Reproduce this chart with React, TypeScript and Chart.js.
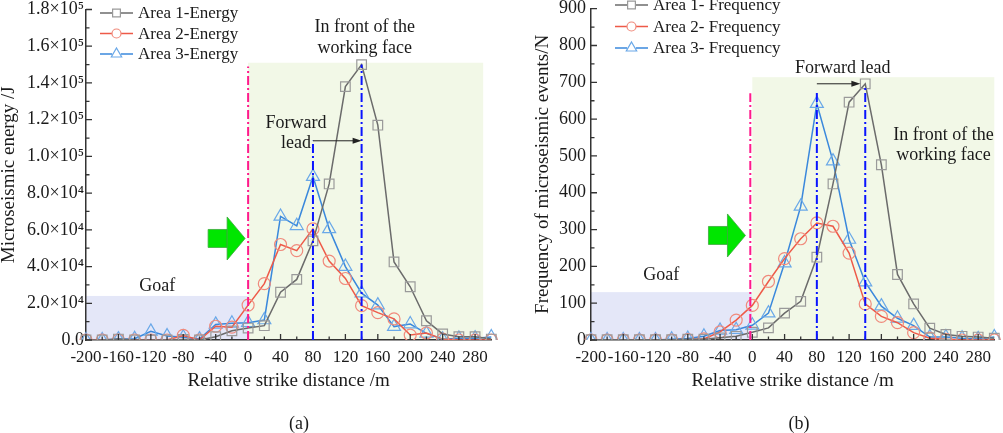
import { useEffect, useRef } from 'react'
import { Chart, registerables } from 'chart.js'

Chart.register(...registerables)

const FONT = '"Liberation Serif", "Times New Roman", serif'
const INK = '#1a1a1a'
const AXIS = '#333333'

// relative strike distance (m), one sample every 20 m
const distances = [
  -200, -180, -160, -140, -120, -100, -80, -60, -40, -20, 0, 20, 40, 60, 80, 100, 120, 140, 160, 180, 200,
  220, 240, 260, 280, 300,
]

// microseismic energy (J)
const area1Energy = [
  0, 0, 500, 0, 0, 0, 300, 0, 1800, 5000, 6500, 7800, 26000, 33000, 54000, 85000, 138000, 150000, 117000,
  42500, 29000, 10500, 3300, 1800, 1800, 500,
]
const area2Energy = [
  0, 0, 0, 0, 0, 0, 2500, 0, 7500, 7000, 19000, 30700, 52000, 48700, 60500, 43000, 33500, 18700, 14900,
  11500, 2700, 3800, 500, 0, 0, 0,
]
const area3Energy = [
  0, 0, 500, 700, 4700, 2200, 1500, 500, 8500, 9100, 9400, 10900, 67300, 62200, 89000, 60500, 40000, 25500,
  19000, 7300, 8700, 3600, 400, 900, 1000, 1600,
]

// frequency of microseismic events (N)
const area1Freq = [
  1, 1, 1, 1, 1, 1, 2, 2, 6, 10, 21, 33, 73, 105, 225, 424, 646, 696, 476, 178, 98, 32, 15, 10, 8, 5,
]
const area2Freq = [
  0, 0, 0, 0, 0, 0, 1, 3, 22, 54, 94, 159, 221, 275, 318, 309, 236, 98, 64, 47, 20, 5, 2, 0, 0, 0,
]
const area3Freq = [
  0, 0, 0, 0, 0, 2, 4, 10, 26, 28, 40, 73, 209, 363, 642, 486, 273, 157, 92, 59, 39, 8, 8, 5, 3, 8,
]

const energyLabels = ['Area 1-Energy', 'Area 2-Energy', 'Area 3-Energy']
const freqLabels = ['Area 1- Frequency', 'Area 2- Frequency', 'Area 3- Frequency']

const styles = [
  { line: '#6b6b6b', marker: '#9a9a9a', shape: 'rect', radius: 6.8 },
  { line: '#ee5a48', marker: '#f08a7c', shape: 'circle', radius: 6 },
  { line: '#3a88dc', marker: '#6aa8e8', shape: 'triangle', radius: 7.5 },
] as const

const SUP = '⁰¹²³⁴⁵⁶⁷⁸⁹'
const sci = (v: number) => {
  if (v === 0) return '0.0'
  const e = Math.floor(Math.log10(v) + 1e-9)
  const m = v / Math.pow(10, e)
  return `${m.toFixed(1)}×10${String(e).split('').map((d) => SUP[+d]).join('')}`
}

type Note = { text: string; x: number; y: number }
type Panel = {
  left: number
  width: number
  padTop: number
  padRight: number
  yAxisWidth: number
  yMax: number
  yStep: number
  yMinor: number
  yTitle: string
  yTitlePad: number
  yTickPad: number
  formatY: (v: number) => string
  labels: string[]
  series: number[][]
  legend: { x: number; y: number; gap: number }
  goaf: { x1: number; x2: number; top: number }
  front: { x1: number; x2: number; top: number }
  face: { x: number; top: number }
  leads: { x: number; top: number }[]
  arrow: { x1: number; x2: number; y: number }
  notes: Note[]
  push: { x: number; y: number }
  caption: string
}

const panels: Panel[] = [
  {
    left: 0,
    width: 500,
    padTop: 9.5,
    padRight: 7,
    yAxisWidth: 86,
    yMax: 180000,
    yStep: 20000,
    yMinor: 10000,
    yTitle: 'Microseismic energy /J',
    yTitlePad: 0,
    yTickPad: 2,
    formatY: sci,
    labels: energyLabels,
    series: [area1Energy, area2Energy, area3Energy],
    legend: { x: 100, y: 13, gap: 20.5 },
    goaf: { x1: -200, x2: 0, top: 24000 },
    front: { x1: 0, x2: 290, top: 151000 },
    face: { x: 0, top: 149000 },
    leads: [
      { x: 80, top: 108500 },
      { x: 140, top: 150000 },
    ],
    arrow: { x1: 80, x2: 140, y: 108500 },
    notes: [
      { text: 'Goaf', x: -112, y: 29400 },
      { text: 'Forward', x: 59, y: 118200 },
      { text: 'lead', x: 59, y: 107300 },
      { text: 'In front of the', x: 144, y: 170500 },
      { text: 'working face', x: 144, y: 159000 },
    ],
    push: { x: -3.7, y: 55300 },
    caption: '(a)',
  },
  {
    left: 500,
    width: 503,
    padTop: 8.3,
    padRight: 1,
    yAxisWidth: 91,
    yMax: 900,
    yStep: 100,
    yMinor: 50,
    yTitle: 'Frequency of microseismic events/N',
    yTitlePad: 33.5,
    yTickPad: 5,
    formatY: (v) => String(v),
    labels: freqLabels,
    series: [area1Freq, area2Freq, area3Freq],
    legend: { x: 115, y: 5, gap: 21.5 },
    goaf: { x1: -200, x2: 0, top: 130 },
    front: { x1: 0, x2: 300, top: 714 },
    face: { x: -2.5, top: 670 },
    leads: [
      { x: 80, top: 678 },
      { x: 140, top: 690 },
    ],
    arrow: { x1: 80, x2: 134, y: 696 },
    notes: [
      { text: 'Goaf', x: -113, y: 175 },
      { text: 'Forward lead', x: 112, y: 738 },
      { text: 'In front of the', x: 237, y: 556 },
      { text: 'working face', x: 237, y: 501 },
    ],
    push: { x: -8.5, y: 284 },
    caption: '(b)',
  },
]

function marker(ctx: CanvasRenderingContext2D, shape: string, x: number, y: number, r: number) {
  ctx.beginPath()
  if (shape === 'rect') {
    const s = r * Math.SQRT1_2
    ctx.rect(x - s, y - s, 2 * s, 2 * s)
  } else if (shape === 'circle') {
    ctx.arc(x, y, r, 0, Math.PI * 2)
  } else {
    for (let k = 0; k < 3; k++) {
      const a = (k * 2 * Math.PI) / 3
      const px = x + Math.sin(a) * r
      const py = y - Math.cos(a) * r
      if (k === 0) ctx.moveTo(px, py)
      else ctx.lineTo(px, py)
    }
    ctx.closePath()
  }
  ctx.stroke()
}

function ChartPanel({ panel }: { panel: Panel }) {
  const canvasRef = useRef<HTMLCanvasElement | null>(null)

  useEffect(() => {
    const canvas = canvasRef.current
    if (!canvas) return

    const backdrop = {
      id: 'backdrop',
      beforeDraw(chart: Chart) {
        const { ctx } = chart
        const x = chart.scales.x
        const y = chart.scales.y
        ctx.save()
        ctx.fillStyle = '#e4e7f8'
        const g = panel.goaf
        ctx.fillRect(x.getPixelForValue(g.x1), y.getPixelForValue(g.top), x.getPixelForValue(g.x2) - x.getPixelForValue(g.x1), y.getPixelForValue(0) - y.getPixelForValue(g.top))
        ctx.fillStyle = '#f2f8e7'
        const f = panel.front
        ctx.fillRect(x.getPixelForValue(f.x1), y.getPixelForValue(f.top), x.getPixelForValue(f.x2) - x.getPixelForValue(f.x1), y.getPixelForValue(0) - y.getPixelForValue(f.top))
        ctx.restore()
      },
    }

    const decor = {
      id: 'decor',
      afterDatasetsDraw(chart: Chart) {
        const { ctx, chartArea } = chart
        const x = chart.scales.x
        const y = chart.scales.y
        const base = y.getPixelForValue(0)
        ctx.save()

        // inward ticks
        ctx.strokeStyle = AXIS
        ctx.lineWidth = 1.3
        ctx.beginPath()
        for (let v = -200; v <= 280; v += 20) {
          const len = v % 40 === 0 ? 6 : 3.5
          const px = x.getPixelForValue(v)
          ctx.moveTo(px, chartArea.bottom)
          ctx.lineTo(px, chartArea.bottom - len)
        }
        for (let v = 0; v <= panel.yMax; v += panel.yMinor) {
          const len = v % panel.yStep === 0 ? 6 : 3.5
          const py = y.getPixelForValue(v)
          ctx.moveTo(chartArea.left, py)
          ctx.lineTo(chartArea.left + len, py)
        }
        ctx.stroke()

        // dash-dot guide lines
        ctx.lineWidth = 2
        ctx.setLineDash([9, 3, 2, 3])
        ctx.strokeStyle = '#ff1a8c'
        ctx.beginPath()
        ctx.moveTo(x.getPixelForValue(panel.face.x), base)
        ctx.lineTo(x.getPixelForValue(panel.face.x), y.getPixelForValue(panel.face.top))
        ctx.stroke()
        ctx.strokeStyle = '#0a14ff'
        for (const l of panel.leads) {
          ctx.beginPath()
          ctx.moveTo(x.getPixelForValue(l.x), base)
          ctx.lineTo(x.getPixelForValue(l.x), y.getPixelForValue(l.top))
          ctx.stroke()
        }
        ctx.setLineDash([])

        // forward lead arrow
        const ax1 = x.getPixelForValue(panel.arrow.x1)
        const ax2 = x.getPixelForValue(panel.arrow.x2)
        const ay = y.getPixelForValue(panel.arrow.y)
        ctx.strokeStyle = '#222'
        ctx.fillStyle = '#222'
        ctx.lineWidth = 1
        ctx.beginPath()
        ctx.moveTo(ax1, ay)
        ctx.lineTo(ax2 - 6, ay)
        ctx.stroke()
        ctx.beginPath()
        ctx.moveTo(ax2, ay)
        ctx.lineTo(ax2 - 9, ay - 3)
        ctx.lineTo(ax2 - 9, ay + 3)
        ctx.closePath()
        ctx.fill()

        // green block arrow
        const tx = x.getPixelForValue(panel.push.x)
        const ty = y.getPixelForValue(panel.push.y)
        ctx.fillStyle = '#00e600'
        ctx.strokeStyle = '#3aa83a'
        ctx.lineWidth = 0.8
        ctx.beginPath()
        ctx.rect(tx - 37, ty - 9, 19, 18)
        ctx.fill()
        ctx.stroke()
        ctx.beginPath()
        ctx.moveTo(tx - 18, ty - 21.5)
        ctx.lineTo(tx, ty)
        ctx.lineTo(tx - 18, ty + 21.5)
        ctx.closePath()
        ctx.fill()
        ctx.stroke()

        // notes
        ctx.fillStyle = INK
        ctx.font = `18px ${FONT}`
        ctx.textAlign = 'center'
        ctx.textBaseline = 'middle'
        for (const n of panel.notes) {
          ctx.fillText(n.text, x.getPixelForValue(n.x), y.getPixelForValue(n.y))
        }
        ctx.restore()
      },
      afterDraw(chart: Chart) {
        const { ctx } = chart
        ctx.save()
        // legend
        const { x: lx, y: ly, gap } = panel.legend
        panel.labels.forEach((label, i) => {
          const st = styles[i]
          const ry = ly + i * gap
          ctx.strokeStyle = st.line
          ctx.lineWidth = 1.5
          ctx.beginPath()
          ctx.moveTo(lx, ry)
          ctx.lineTo(lx + 33, ry)
          ctx.stroke()
          ctx.fillStyle = '#fff'
          ctx.strokeStyle = st.marker
          ctx.lineWidth = 1.2
          const r = st.shape === 'rect' ? 5.5 : st.shape === 'circle' ? 4.5 : 6
          if (st.shape === 'rect') ctx.fillRect(lx + 16.5 - 4, ry - 4, 8, 8)
          else {
            ctx.beginPath()
            ctx.arc(lx + 16.5, ry, 4.5, 0, Math.PI * 2)
            ctx.fill()
          }
          marker(ctx, st.shape, lx + 16.5, ry, r)
          ctx.fillStyle = INK
          ctx.font = `17px ${FONT}`
          ctx.textAlign = 'left'
          ctx.textBaseline = 'middle'
          ctx.fillText(label, lx + 38, ry + 1)
        })
        // caption
        ctx.font = `18px ${FONT}`
        ctx.textAlign = 'center'
        ctx.fillText(panel.caption, 299, 424)
        ctx.restore()
      },
    }

    const chart = new Chart(canvas, {
      type: 'line',
      data: {
        datasets: panel.series.map((values, i) => ({
          label: panel.labels[i],
          data: distances.map((d, k) => ({ x: d, y: values[k] })),
          borderColor: styles[i].line,
          borderWidth: 1.5,
          pointStyle: styles[i].shape,
          pointRadius: styles[i].radius,
          pointBorderColor: styles[i].marker,
          pointBackgroundColor: 'rgba(0,0,0,0)',
          pointBorderWidth: 1.2,
          tension: 0,
          clip: { left: 12, right: 12, top: 12, bottom: 0 },
        })),
      },
      options: {
        responsive: false,
        animation: false,
        layout: { padding: { top: panel.padTop, right: panel.padRight, left: 0, bottom: 0 } },
        plugins: { legend: { display: false }, tooltip: { enabled: false } },
        scales: {
          x: {
            type: 'linear',
            min: -200,
            max: 300,
            grid: { display: false, drawTicks: false },
            border: { display: true, color: AXIS, width: 1.5 },
            ticks: {
              stepSize: 40,
              includeBounds: false,
              padding: 7,
              color: INK,
              font: { family: FONT, size: 17 },
              maxRotation: 0,
              autoSkip: false,
            },
            title: {
              display: true,
              text: 'Relative strike distance /m',
              color: INK,
              font: { family: FONT, size: 19, lineHeight: 1 },
              padding: { top: 0, bottom: 42 },
            },
            afterFit: (s: any) => {
              s.height = 93
              s.paddingLeft = 0
              s.paddingRight = 0
            },
          },
          y: {
            type: 'linear',
            min: 0,
            max: panel.yMax,
            grid: { display: false, drawTicks: false },
            border: { display: true, color: AXIS, width: 1.5 },
            ticks: {
              stepSize: panel.yStep,
              padding: panel.yTickPad,
              color: INK,
              font: { family: FONT, size: 18 },
              callback: (v: any) => panel.formatY(Number(v)),
            },
            title: {
              display: true,
              text: panel.yTitle,
              color: INK,
              font: { family: FONT, size: 19, lineHeight: 1 },
              padding: { top: panel.yTitlePad, bottom: 0 },
            },
            afterFit: (s: any) => {
              s.width = panel.yAxisWidth
              s.paddingTop = 0
              s.paddingBottom = 0
            },
          },
        },
      },
      plugins: [backdrop, decor],
    })

    return () => {
      chart.destroy()
    }
  }, [panel])

  return (
    <canvas
      ref={canvasRef}
      width={panel.width}
      height={433}
      style={{ position: 'absolute', left: panel.left, top: 0, width: panel.width, height: 433 }}
    />
  )
}

export default function App() {
  return (
    <div style={{ position: 'absolute', left: 0, top: 0, width: 1003, height: 433, background: '#fff' }}>
      {panels.map((p) => (
        <ChartPanel key={p.caption} panel={p} />
      ))}
    </div>
  )
}
